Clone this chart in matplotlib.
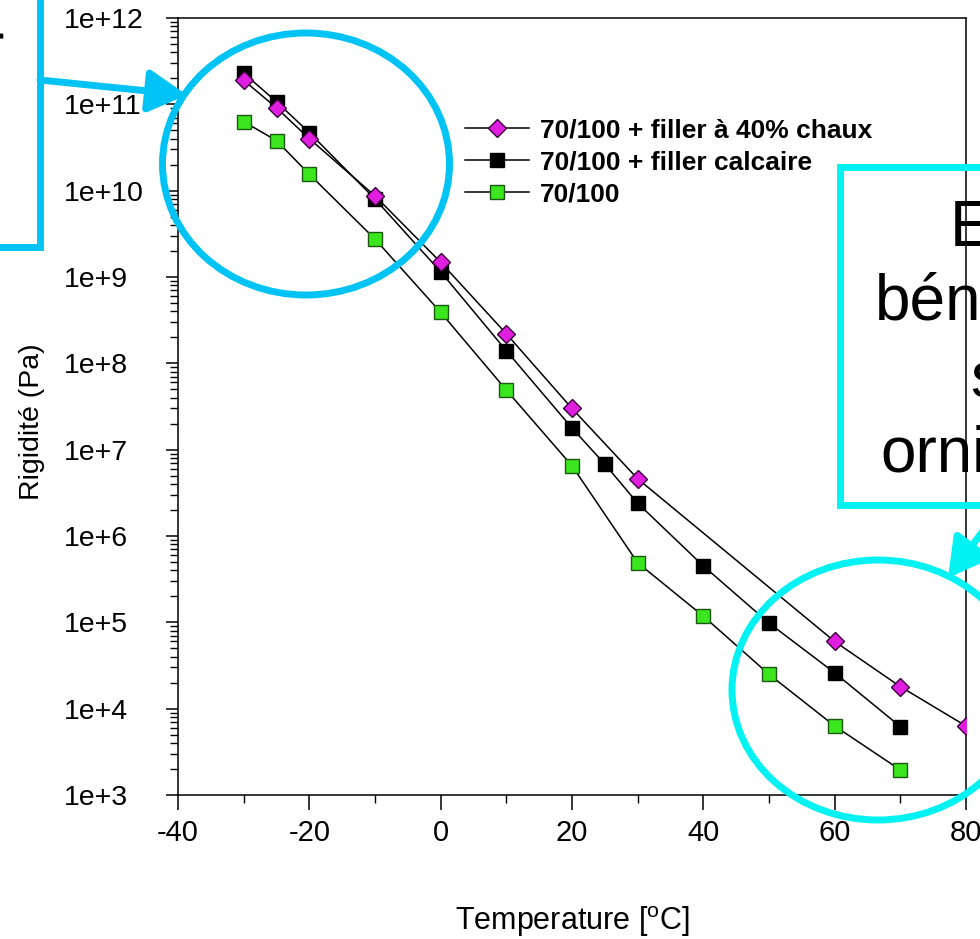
import matplotlib
matplotlib.use("Agg")
import matplotlib.pyplot as plt
from matplotlib.patches import Ellipse
from matplotlib.ticker import FixedLocator, LogLocator, MultipleLocator, NullFormatter
import numpy as np

plt.rcParams['axes.unicode_minus'] = False
plt.rcParams['mathtext.fontset'] = 'custom'
plt.rcParams['mathtext.rm'] = 'Liberation Sans'

# Données : rigidité (Pa) en fonction de la température (°C)
temp_chaux = [-30, -25, -20, -10, 0, 10, 20, 30, 60, 70, 80]
rig_chaux = [1.9e11, 9.1e10, 4.0e10, 8.7e9, 1.48e9, 2.2e8, 3.0e7, 4.6e6, 6.0e4, 1.8e4, 6.3e3]

temp_calc = [-30, -25, -20, -10, 0, 10, 20, 25, 30, 40, 50, 60, 70]
rig_calc = [2.3e11, 1.07e11, 4.7e10, 8.0e9, 1.15e9, 1.4e8, 1.78e7, 6.8e6, 2.4e6, 4.5e5, 9.8e4, 2.6e4, 6.2e3]

temp_pur = [-30, -25, -20, -10, 0, 10, 20, 30, 40, 50, 60, 70]
rig_pur = [6.3e10, 3.8e10, 1.55e10, 2.75e9, 3.9e8, 4.9e7, 6.5e6, 4.9e5, 1.18e5, 2.5e4, 6.3e3, 1.95e3]

labels = ['70/100 + filler à 40% chaux', '70/100 + filler calcaire', '70/100']
ytick_vals = [10.0**k for k in range(3, 13)]
ytick_labels = ['1e+%d' % k for k in range(3, 13)]

W, H = 980, 939
fig = plt.figure(figsize=(W / 100, H / 100), dpi=100)
ax = fig.add_axes([178 / W, 1 - 795 / H, (966 - 178) / W, (795 - 18) / H])

font = ['Liberation Sans', 'DejaVu Sans']

l1, = ax.plot(temp_chaux, rig_chaux, color='black', lw=1.1, marker='D', ms=9.5,
              mfc='#e01ee0', mec='#3a003a', mew=1, zorder=4)
l2, = ax.plot(temp_calc, rig_calc, color='black', lw=1.1, marker='s', ms=10,
              mfc='black', mec='black', zorder=3)
l3, = ax.plot(temp_pur, rig_pur, color='black', lw=1.1, marker='s', ms=9.5,
              mfc='#3ce61e', mec='#1a5a10', mew=1, zorder=3)

ax.set_yscale('log')
ax.set_xlim(-40, 80)
ax.set_ylim(1e3, 1e12)

ax.yaxis.set_major_locator(FixedLocator(ytick_vals))
ax.set_yticklabels(ytick_labels, family=font, fontsize=20.5, ha='left')
ax.yaxis.set_minor_locator(LogLocator(base=10, subs=np.arange(2, 10), numticks=20))
ax.yaxis.set_minor_formatter(NullFormatter())
ax.tick_params(axis='y', which='major', length=9, width=1.1, pad=73, direction='out')
ax.tick_params(axis='y', which='minor', length=6, width=1.0, direction='out')

ax.xaxis.set_major_locator(MultipleLocator(20))
ax.xaxis.set_minor_locator(MultipleLocator(10))
ax.tick_params(axis='x', which='major', length=11, width=1.1, pad=6, direction='out')
ax.tick_params(axis='x', which='minor', length=6, width=1.0, direction='out')
for t in ax.get_xticklabels():
    t.set_family(font)
    t.set_fontsize(21)

for s in ax.spines.values():
    s.set_linewidth(1.1)

ax.set_ylabel('Rigidité (Pa)', family=font, fontsize=20.5)
ax.yaxis.set_label_coords(-0.169, 0.48)
ax.set_xlabel('Temperature [$^{\\mathrm{o}}$C]', family=font, fontsize=22, va='top')
ax.xaxis.set_label_coords(0.5, -0.141)

ax.legend([l1, l2, l3], labels, loc='upper left', bbox_to_anchor=(0.364, 0.871),
          frameon=False, prop={'family': font, 'weight': 'bold', 'size': 19},
          handlelength=2.45, handletextpad=0.38, labelspacing=0.3,
          borderpad=0, borderaxespad=0)

# Annotations par-dessus (coordonnées en pixels)
ov = fig.add_axes([0, 0, 1, 1], facecolor='none')
ov.set_xlim(0, W)
ov.set_ylim(H, 0)
ov.axis('off')

c_left = '#00c3f5'
c_right = '#00f2f2'
arrow = '-|>,head_length=0.9,head_width=0.5'

ov.plot([40, 40, -20], [-20, 247, 247], color=c_left, lw=5, solid_joinstyle='miter', clip_on=False)
ov.text(4, 66, 'r', family=font, fontsize=44, ha='right', va='baseline')
ov.annotate('', xy=(187, 95), xytext=(40, 80),
            arrowprops=dict(arrowstyle=arrow, color=c_left, lw=5,
                            mutation_scale=26, shrinkA=0, shrinkB=0))
ov.add_patch(Ellipse((306, 164), 287, 262, fill=False, ec=c_left, lw=5))

ov.plot([1100, 840, 840, 1100], [167, 167, 505, 505], color=c_right, lw=5,
        solid_joinstyle='miter', clip_on=False)
for txt, yb in zip(['Effet', 'bénéfique', 'sur', 'orniérage'], [245, 320, 397, 472]):
    ov.text(1015, yb, txt, family=font, fontsize=46, ha='center', va='baseline')
ov.annotate('', xy=(948, 578), xytext=(1000, 508),
            arrowprops=dict(arrowstyle=arrow, color=c_right, lw=5,
                            mutation_scale=26, shrinkA=0, shrinkB=0))
ov.add_patch(Ellipse((878, 690), 292, 260, fill=False, ec=c_right, lw=5))

fig.savefig('out.png', dpi=100)
